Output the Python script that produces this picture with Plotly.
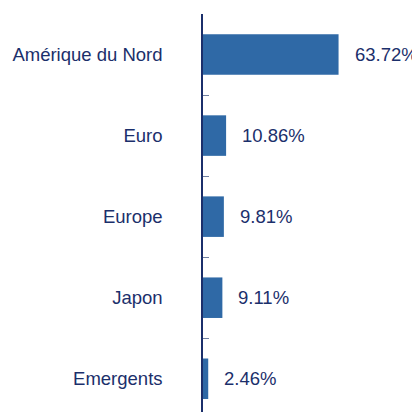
import plotly.graph_objects as go

categories = ["Amérique du Nord", "Euro", "Europe", "Japon", "Emergents"]
values = [63.72, 10.86, 9.81, 9.11, 2.46]
labels = [f"{v:.2f}%" for v in values]

navy = "#1B2F6B"
bar_color = "#2F69A6"
FONT = "Liberation Sans, Arial"

fig = go.Figure(go.Bar(
    x=values, y=categories, orientation="h",
    marker=dict(color=bar_color, line=dict(width=0)),
    width=0.5,
))

for c, v, t in zip(categories, values, labels):
    fig.add_annotation(
        x=v, y=c, text=t, showarrow=False,
        xanchor="left", yanchor="middle", xshift=14,
        font=dict(family=FONT, size=18.5, color=navy),
    )

# page body has an 8px margin, so the figure is offset by 8px
fig.update_layout(
    width=412, height=404,
    margin=dict(l=195, r=0, t=6, b=0, autoexpand=False),
    paper_bgcolor="white", plot_bgcolor="white",
    showlegend=False,
    font=dict(family=FONT, size=18.5, color=navy),
)
fig.update_xaxes(range=[0, 102], visible=False, automargin=False)
fig.update_yaxes(
    type="category",
    range=[4.41, -0.5],
    automargin=False,
    showline=True, linecolor=navy, linewidth=1.5,
    ticks="inside", tickson="boundaries", ticklen=6, tickcolor="#6F7FA0",
    showgrid=False, zeroline=False,
    ticklabelstandoff=35,
    tickfont=dict(family=FONT, size=18.5, color=navy),
)

fig.write_html("out.html")
